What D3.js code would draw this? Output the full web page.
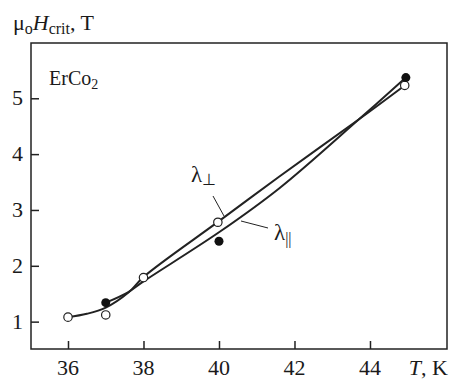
<!DOCTYPE html>
<html>
<head>
<meta charset="utf-8">
<script src="https://cdn.jsdelivr.net/npm/d3@7"></script>
<style>
body { margin: 0; background: #fff; }
svg text { font-family: "Liberation Serif", "Times New Roman", serif; fill: #1a1a1a; }
</style>
</head>
<body>
<svg id="chart" width="458" height="380"></svg>
<script>
// measured points
var perpT = [36, 37, 38, 39.97, 44.92];
var perpH = [1.08, 1.12, 1.79, 2.78, 5.23];
var parT = [37, 40, 44.95];
var parH = [1.34, 2.44, 5.37];

// fitted curves
var perpCurveT = [36, 36.5, 37, 37.6, 38, 40, 41.6, 43.7, 44.92];
var perpCurveH = [1.08, 1.14, 1.25, 1.52, 1.8, 2.8, 3.6, 4.62, 5.23];
var parCurveT = [37, 37.6, 38, 40, 41.6, 43.7, 44.95];
var parCurveH = [1.34, 1.53, 1.72, 2.6, 3.39, 4.62, 5.37];

var xTicks = [36, 38, 40, 42, 44];
var yTicks = [1, 2, 3, 4, 5];

var svg = d3.select('#chart');
var box = {left: 31, right: 447, top: 43, bottom: 349};

var x = d3.scaleLinear().domain([35.02, 46.04]).range([box.left, box.right]);
var y = d3.scaleLinear().domain([0.51, 5.99]).range([box.bottom, box.top]);

// frame
svg.append('rect')
    .attr('x', box.left).attr('y', box.top)
    .attr('width', box.right - box.left).attr('height', box.bottom - box.top)
    .attr('fill', 'none').attr('stroke', '#222').attr('stroke-width', 1.5);

// inward ticks
var xAxis = d3.axisTop(x).tickValues(xTicks).tickSize(8).tickFormat('');
svg.append('g').attr('transform', 'translate(0,' + box.bottom + ')').call(xAxis)
    .call(g => g.select('.domain').remove())
    .selectAll('line').attr('stroke', '#222').attr('stroke-width', 1.5);

var yAxis = d3.axisRight(y).tickValues(yTicks).tickSize(8).tickFormat('');
svg.append('g').attr('transform', 'translate(' + box.left + ',0)').call(yAxis)
    .call(g => g.select('.domain').remove())
    .selectAll('line').attr('stroke', '#222').attr('stroke-width', 1.5);

// tick labels
svg.selectAll('.xlab').data(xTicks).enter().append('text')
    .attr('x', d => x(d)).attr('y', 375)
    .attr('text-anchor', 'middle').attr('font-size', 22)
    .text(d => d);

svg.selectAll('.ylab').data(yTicks).enter().append('text')
    .attr('x', 23).attr('y', d => y(d) + 7)
    .attr('text-anchor', 'end').attr('font-size', 22)
    .text(d => d);

// axis titles
var yt = svg.append('text').attr('x', 13).attr('y', 30).attr('font-size', 22);
yt.append('tspan').text('μ');
yt.append('tspan').attr('dy', 4).attr('font-size', 16).text('o');
yt.append('tspan').attr('dy', -4).attr('font-style', 'italic').text('H');
yt.append('tspan').attr('dy', 4).attr('font-size', 16).text('crit');
yt.append('tspan').attr('dy', -4).text(', T');

var xt = svg.append('text').attr('x', 448).attr('y', 375)
    .attr('text-anchor', 'end').attr('font-size', 22);
xt.append('tspan').attr('font-style', 'italic').text('T');
xt.append('tspan').text(', K');

var er = svg.append('text').attr('x', 49).attr('y', 85).attr('font-size', 20);
er.append('tspan').text('ErCo');
er.append('tspan').attr('dy', 4).attr('font-size', 14).text('2');

// curves
var line = d3.line().x(d => x(d[0])).y(d => y(d[1])).curve(d3.curveCatmullRom);
svg.append('path')
    .attr('d', line(perpCurveT.map((t, i) => [t, perpCurveH[i]])))
    .attr('fill', 'none').attr('stroke', '#222').attr('stroke-width', 2);
svg.append('path')
    .attr('d', line(parCurveT.map((t, i) => [t, parCurveH[i]])))
    .attr('fill', 'none').attr('stroke', '#222').attr('stroke-width', 2);

// points
svg.selectAll('.open').data(perpT).enter().append('circle')
    .attr('cx', d => x(d)).attr('cy', (d, i) => y(perpH[i]))
    .attr('r', 4.2).attr('fill', '#fff').attr('stroke', '#222').attr('stroke-width', 1.2);
svg.selectAll('.filled').data(parT).enter().append('circle')
    .attr('cx', d => x(d)).attr('cy', (d, i) => y(parH[i]))
    .attr('r', 4.5).attr('fill', '#111');

// labels with leaders
svg.append('line').attr('x1', 213).attr('y1', 196).attr('x2', 224).attr('y2', 216)
    .attr('stroke', '#222').attr('stroke-width', 1);
svg.append('line').attr('x1', 241).attr('y1', 221).attr('x2', 268).attr('y2', 228)
    .attr('stroke', '#222').attr('stroke-width', 1);

var lp = svg.append('text').attr('x', 191).attr('y', 182).attr('font-size', 23);
lp.append('tspan').text('λ');
lp.append('tspan').attr('dy', 3).attr('font-size', 16).text('⊥');

var lq = svg.append('text').attr('x', 274).attr('y', 240).attr('font-size', 23);
lq.append('tspan').text('λ');
lq.append('tspan').attr('dy', 4).attr('font-size', 16).text('||');
</script>
</body>
</html>
